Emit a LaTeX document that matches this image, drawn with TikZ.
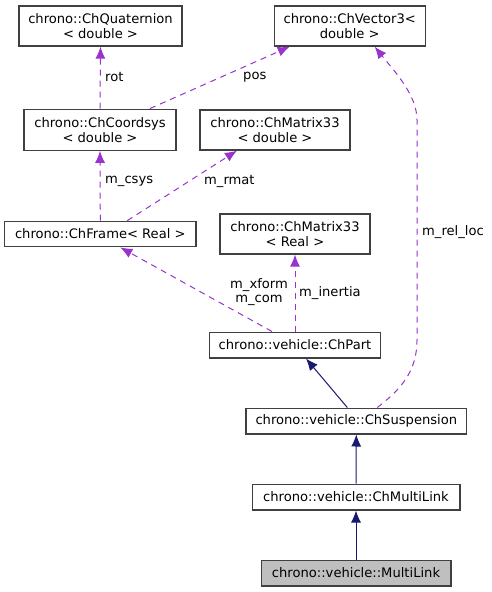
\documentclass[tikz,border=0pt]{standalone}
\usepackage{fontspec}
\setmainfont{DejaVu Sans}
\usetikzlibrary{arrows.meta,calc}
\definecolor{depcol}{HTML}{9A32CD}
\definecolor{inhcol}{HTML}{191970}
\definecolor{boxcol}{HTML}{404040}
\begin{document}
\begin{tikzpicture}[x=1pt,y=-1pt,
  every node/.style={font=\fontsize{13.1}{15}\selectfont},
  cls/.style={draw=boxcol,line width=1.3pt,fill=white,inner sep=0pt,align=center},
  dep/.style={draw=depcol,dash pattern=on 6pt off 5pt,line width=1pt,-{Latex[length=12pt,width=10pt,fill=depcol]}},
  inh/.style={draw=inhcol,line width=1pt,-{Latex[length=12pt,width=10pt,fill=inhcol]}},
  lbl/.style={anchor=west,inner sep=0pt,text=black}]
\useasboundingbox (0,0) rectangle (491,592);
\node[cls,minimum width=163pt,minimum height=40pt] (quat) at (100.5,26) {chrono::ChQuaternion\\< double >};
\node[cls,minimum width=151pt,minimum height=40pt] (vec) at (349.7,26) {chrono::ChVector3<\\double >};
\node[cls,minimum width=152pt,minimum height=41pt] (csys) at (100,129.7) {chrono::ChCoordsys\\< double >};
\node[cls,minimum width=150pt,minimum height=40pt] (m33d) at (275,130) {chrono::ChMatrix33\\< double >};
\node[cls,minimum width=191.5pt,minimum height=25.5pt] (frame) at (100.3,234) {chrono::ChFrame< Real >};
\node[cls,minimum width=150pt,minimum height=40pt] (m33r) at (295,234) {chrono::ChMatrix33\\< Real >};
\node[cls,minimum width=171.5pt,minimum height=25.7pt] (part) at (295,345) {chrono::vehicle::ChPart};
\node[cls,minimum width=220.7pt,minimum height=25.7pt] (susp) at (356.3,421) {chrono::vehicle::ChSuspension};
\node[cls,minimum width=207.7pt,minimum height=25.7pt] (cml) at (356,497) {chrono::vehicle::ChMultiLink};
\node[cls,minimum width=189.7pt,minimum height=25.7pt,fill=black!25] (ml) at (356,573) {chrono::vehicle::MultiLink};

\draw[dep] (csys.north) -- (quat.south);
\draw[dep] ([xshift=50pt]csys.north) -- ([xshift=-60pt]vec.south);
\draw[dep] (frame.north) -- (csys.south);
\draw[dep] ([xshift=27pt]frame.north) -- ([xshift=-38pt]m33d.south);
\draw[dep] ([xshift=-23pt]part.north) -- ([xshift=20pt]frame.south);
\draw[dep] (part.north) -- (m33r.south);
\draw[dep] ([xshift=21pt]susp.north) .. controls (400,390) and (417,372) .. (417,340) -- (417,120) .. controls (417,95) and (395,72) .. ([xshift=25pt]vec.south);
\draw[inh] ([xshift=-9pt]susp.north) -- ([xshift=11pt]part.south);
\draw[inh] (cml.north) -- (susp.south);
\draw[inh] (ml.north) -- (cml.south);

\node[lbl] (l1) at (105,77) {rot};
\node[lbl] (l2) at (243,77) {pos};
\node[lbl] (l3) at (105,181) {m\_csys};
\node[lbl] (l4) at (204,181) {m\_rmat};
\node[inner sep=0pt,align=center,font=\fontsize{13.1}{14}\selectfont] (l5) at (259,292) {m\_xform\\m\_com};
\node[lbl] (l6) at (299,293) {m\_inertia};
\node[lbl] (l7) at (422,232) {m\_rel\_loc};
\end{tikzpicture}
\end{document}
